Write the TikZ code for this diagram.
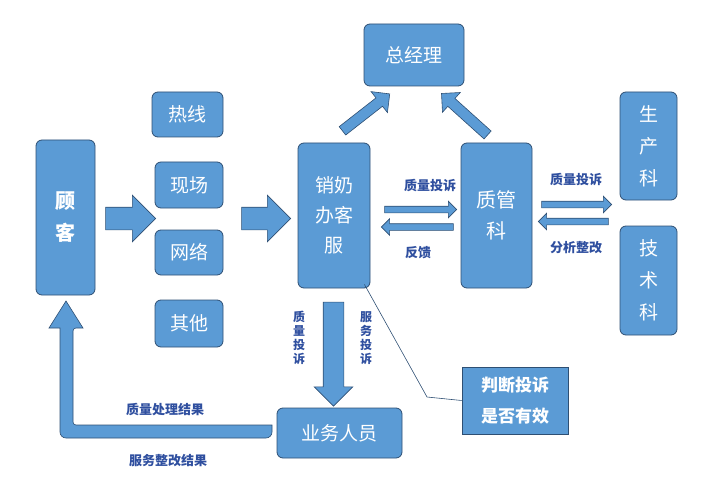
\documentclass[tikz,border=0pt]{standalone}
\usepackage{fontspec}
\setmainfont{Noto Sans CJK SC}
\usetikzlibrary{shapes.arrows}
\definecolor{bfill}{HTML}{5B9BD5}
\definecolor{bdr}{HTML}{2E4F73}
\definecolor{lbl}{HTML}{2F4F9F}
\tikzset{
 box/.style={draw=bdr,fill=bfill,rounded corners=6pt,line width=0.8pt,text=white,font=\fontsize{19}{22}\selectfont,align=center,inner sep=0pt},
 barrow/.style={single arrow,draw=bdr,fill=bfill,line width=0.6pt,inner xsep=0pt,shape border uses incircle=false},
 lab/.style={text=lbl,font=\bfseries\fontsize{13}{15}\selectfont,inner sep=0pt},
}
\begin{document}
\begin{tikzpicture}[x=1pt,y=-1pt]
\useasboundingbox (0,0) rectangle (719,497);
\node[box,minimum width=59,minimum height=155,font=\bfseries\fontsize{20}{32}\selectfont] (gk) at (65.5,217.5) {顾\\客};
\node[box,minimum width=71,minimum height=45] (rx) at (187.5,114.5) {热线};
\node[box,minimum width=68,minimum height=46] (xc) at (189,185) {现场};
\node[box,minimum width=68,minimum height=45] (wl) at (189,252.5) {网络};
\node[box,minimum width=68,minimum height=47] (qt) at (189,323.5) {其他};
\node[box,minimum width=72,minimum height=145,font=\fontsize{19}{30}\selectfont] (xs) at (334,215.5) {销奶\\办客\\服};
\node[box,minimum width=100,minimum height=62] (zjl) at (414,55) {总经理};
\node[box,minimum width=71,minimum height=145,font=\fontsize{20}{31}\selectfont] (zg) at (496.5,215.5) {质管\\科};
\node[box,minimum width=57,minimum height=108,font=\fontsize{19}{32}\selectfont] (sc) at (648.5,146) {生\\产\\科};
\node[box,minimum width=57,minimum height=109,font=\fontsize{19}{32}\selectfont] (js) at (648.5,280.5) {技\\术\\科};
\node[box,minimum width=125,minimum height=50] (yw) at (339.5,433) {业务人员};
\node[box,rounded corners=0pt,minimum width=106,minimum height=67,font=\bfseries\fontsize{17}{31}\selectfont] (pd) at (515,400.5) {判断投诉\\是否有效};
% block arrows
\node[barrow,minimum height=50,inner ysep=11,single arrow head extend=12] (a1) at (125,218.5) {};
\node[barrow,minimum height=49,inner ysep=11,single arrow head extend=12] (a2) at (260.5,218.5) {};
\node[barrow,minimum height=60,inner ysep=5,single arrow head extend=8,rotate=38] (a3) at (364,114) {};
\node[barrow,minimum height=62,inner ysep=5,single arrow head extend=8,rotate=138] (a4) at (466.5,116) {};
\node[barrow,minimum height=72,inner ysep=3,single arrow head extend=5] (a5) at (419,209.5) {};
\node[barrow,minimum height=72,inner ysep=3,single arrow head extend=5,rotate=180] (a6) at (419,227) {};
\node[barrow,minimum height=70,inner ysep=3,single arrow head extend=5] (a7) at (575,204.5) {};
\node[barrow,minimum height=70,inner ysep=3,single arrow head extend=5,rotate=180] (a8) at (575,221.5) {};
\node[barrow,minimum height=104,inner ysep=10,single arrow head extend=9,rotate=-90] (a9) at (333.5,349) {};
% bent arrow
\draw[draw=bdr,fill=bfill,line width=0.6pt,rounded corners=3pt] (272,425) -- (73,425) -- (73,328) [sharp corners]-- (83,328) -- (66,301) -- (49,328) -- (60,328) [rounded corners=6pt]-- (60,438) -- (272,438) [sharp corners]-- cycle;
% callout line
\coordinate (c1) at (427,397);
\draw[bdr,line width=0.6pt] (xs.south east) ++(-6,-4) -- (c1) -- (pd.west);
% labels
\node[lab] (l1) at (430,186) {质量投诉};
\node[lab] (l2) at (418,253) {反馈};
\node[lab] (l3) at (576,180) {质量投诉};
\node[lab] (l4) at (576,248) {分析整改};
\node[lab,align=center,font=\bfseries\fontsize{12}{14}\selectfont] (l5) at (299,338) {质\\量\\投\\诉};
\node[lab,align=center,font=\bfseries\fontsize{12}{14}\selectfont] (l6) at (366,338) {服\\务\\投\\诉};
\node[lab] (l7) at (165,410) {质量处理结果};
\node[lab] (l8) at (168,461) {服务整改结果};
\end{tikzpicture}
\end{document}
